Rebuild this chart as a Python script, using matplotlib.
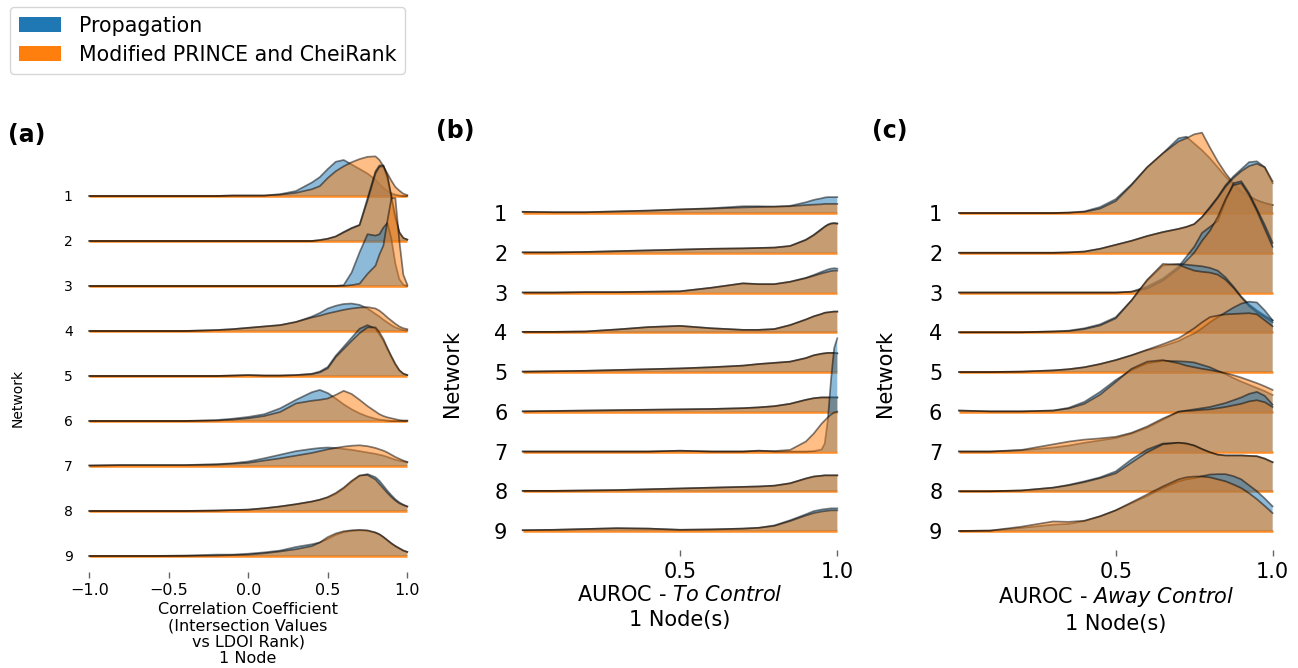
import numpy as np
import matplotlib
matplotlib.use("Agg")
import matplotlib.pyplot as plt
from matplotlib.patches import Patch

# methods
METHODS = ["Propagation", "Modified PRINCE and CheiRank"]
NETWORKS = ["1", "2", "3", "4", "5", "6", "7", "8", "9"]

# (a) correlation coefficient, density heights (in row spacings) on a shared x grid
XA = [-1.0, -0.8, -0.6, -0.4, -0.2, -0.1, 0.0, 0.1, 0.2, 0.3, 0.4, 0.45, 0.5, 0.55,
      0.6, 0.65, 0.7, 0.75, 0.8, 0.825, 0.85, 0.875, 0.9, 0.925, 0.95, 0.975, 1.0]
A_PROP = [
    [0, 0, 0, 0, 0, .01, .01, .01, .04, .11, .3, .42, .6, .76, .8, .7, .6, .5, .36, .26, .18, .11, .06, .03, .01, 0, 0],
    [0, 0, 0, 0, 0, 0, 0, 0, 0, 0, 0, .02, .05, .1, .2, .29, .36, .95, 1.55, 1.68, 1.68, 1.4, .95, .5, .18, .06, .03],
    [0, 0, 0, 0, 0, 0, 0, 0, 0, 0, 0, 0, 0, 0, .02, .3, .75, 1.15, 1.12, 1.15, 1.3, 1.4, 1.05, .5, .15, .03, 0],
    [0, 0, 0, 0, .02, .04, .07, .1, .13, .2, .32, .4, .5, .56, .6, .61, .58, .5, .38, .32, .25, .19, .13, .08, .05, .02, .01],
    [0, 0, 0, 0, 0, .01, .02, .01, .01, .02, .05, .1, .2, .45, .65, .85, 1.05, 1.13, 1.05, .92, .78, .6, .42, .25, .12, .05, .02],
    [0, 0, 0, 0, .02, .05, .09, .15, .28, .47, .64, .69, .62, .5, .37, .26, .17, .1, .05, .03, .02, .01, 0, 0, 0, 0, 0],
    [.01, .02, .02, .02, .04, .06, .1, .17, .25, .33, .38, .4, .41, .4, .38, .36, .33, .3, .27, .25, .23, .2, .17, .14, .12, .1, .08],
    [0, 0, 0, 0, .01, .02, .03, .06, .1, .15, .21, .25, .3, .38, .5, .65, .78, .82, .75, .67, .56, .45, .35, .26, .19, .14, .1],
    [0, 0, 0, .01, .03, .03, .05, .08, .12, .2, .26, .3, .38, .47, .53, .56, .57, .56, .52, .48, .42, .35, .28, .22, .17, .12, .09],
]
A_MOD = [
    [0, 0, 0, 0, 0, .01, .01, .01, .03, .07, .15, .22, .4, .55, .66, .75, .82, .87, .88, .8, .66, .5, .34, .2, .12, .05, .02],
    [0, 0, 0, 0, 0, 0, 0, 0, 0, 0, 0, .02, .05, .1, .19, .28, .35, .9, 1.5, 1.65, 1.66, 1.45, 1.0, .55, .2, .07, .03],
    [0, 0, 0, 0, 0, 0, 0, 0, 0, 0, 0, 0, 0, 0, 0, .02, .05, .27, .45, .7, .9, 1.45, 1.95, 1.95, 1.0, .25, .03],
    [0, 0, 0, 0, .02, .04, .07, .1, .13, .2, .3, .34, .39, .43, .47, .5, .52, .53, .5, .45, .38, .3, .23, .16, .1, .06, .04],
    [0, 0, 0, 0, 0, .01, .02, .01, .01, .02, .04, .08, .17, .42, .6, .78, .95, 1.08, 1.08, .97, .82, .62, .44, .27, .13, .05, .02],
    [0, 0, 0, 0, .01, .03, .06, .11, .2, .39, .45, .47, .5, .58, .67, .6, .47, .33, .21, .15, .11, .08, .06, .04, .02, .01, .01],
    [.01, .02, .02, .02, .03, .05, .07, .12, .17, .23, .29, .33, .37, .4, .43, .45, .46, .44, .4, .37, .34, .3, .25, .2, .16, .12, .09],
    [0, 0, 0, 0, .01, .02, .03, .06, .1, .15, .21, .25, .31, .4, .52, .67, .79, .8, .7, .6, .5, .4, .31, .23, .17, .13, .1],
    [0, 0, 0, 0, .01, .02, .03, .06, .1, .15, .22, .3, .42, .5, .55, .57, .58, .57, .52, .48, .42, .35, .28, .22, .17, .12, .09],
]

# (b) AUROC - To Control
XB = [0, .1, .2, .3, .4, .5, .6, .7, .75, .8, .85, .9, .925, .95, .96, .97, .98, .99, 1.0]
B_PROP = [
    [.03, .02, .02, .04, .06, .09, .12, .17, .17, .16, .18, .27, .33, .37, .39, .4, .4, .4, .4],
    [.01, .01, .02, .04, .06, .08, .1, .11, .12, .13, .17, .33, .45, .6, .66, .71, .74, .75, .74],
    [0, 0, .01, .01, .02, .03, .12, .23, .21, .21, .27, .37, .44, .52, .55, .58, .6, .61, .6],
    [.01, .01, .02, .07, .13, .16, .1, .06, .06, .08, .18, .32, .4, .46, .49, .5, .51, .52, .52],
    [.01, .02, .03, .05, .07, .09, .12, .16, .2, .23, .26, .35, .42, .46, .47, .48, .48, .48, .47],
    [.01, .02, .03, .04, .05, .06, .07, .09, .11, .14, .2, .3, .34, .36, .36, .36, .36, .36, .36],
    [0, 0, 0, 0, 0, .02, 0, 0, .02, 0, 0, 0, .01, .05, .2, .8, 1.8, 2.6, 2.85],
    [.01, .01, .02, .03, .05, .07, .09, .11, .12, .14, .2, .32, .37, .39, .4, .4, .4, .4, .4],
    [.02, .03, .05, .07, .06, .03, .04, .06, .08, .14, .27, .42, .5, .54, .55, .56, .57, .57, .57],
]
B_MOD = [
    [.03, .02, .02, .04, .06, .09, .11, .14, .15, .16, .17, .2, .21, .22, .23, .23, .23, .23, .23],
    [.01, .01, .02, .04, .06, .08, .1, .11, .12, .13, .17, .32, .44, .59, .65, .7, .73, .74, .73],
    [0, 0, .01, .01, .02, .03, .12, .23, .21, .21, .27, .36, .42, .48, .5, .52, .54, .55, .55],
    [.01, .01, .02, .07, .13, .16, .1, .06, .06, .08, .18, .32, .4, .46, .49, .5, .51, .52, .52],
    [.01, .02, .03, .05, .07, .09, .12, .16, .2, .23, .26, .35, .42, .46, .47, .48, .48, .48, .47],
    [.01, .02, .03, .04, .05, .06, .07, .09, .11, .14, .2, .3, .34, .36, .36, .36, .36, .36, .36],
    [0, 0, 0, 0, 0, .02, 0, 0, .02, .01, .04, .25, .45, .7, .78, .86, .93, .98, 1.0],
    [.01, .01, .02, .03, .05, .07, .09, .11, .12, .14, .2, .32, .37, .39, .4, .4, .4, .4, .4],
    [.02, .03, .05, .07, .06, .03, .04, .06, .08, .13, .25, .39, .45, .49, .5, .51, .52, .52, .52],
]

# (c) AUROC - Away Control
XC = [0, .1, .2, .3, .35, .4, .45, .5, .55, .6, .65, .7, .725, .75, .775, .8, .825, .85,
      .875, .9, .925, .95, .975, 1.0]
C_PROP = [
    [0, 0, 0, 0, .01, .04, .15, .35, .72, 1.15, 1.5, 1.88, 1.92, 1.75, 1.58, 1.38, 1.15, .92, .72, .52, .42, .32, .25, .2],
    [0, 0, 0, 0, .01, .03, .1, .2, .3, .42, .52, .6, .65, .72, .9, 1.15, 1.4, 1.7, 1.92, 2.1, 2.28, 2.3, 2.15, 1.75],
    [0, 0, 0, 0, 0, 0, 0, 0, .02, .15, .35, .65, .9, 1.15, 1.5, 1.65, 1.8, 2.3, 2.75, 2.8, 2.5, 2.1, 1.7, 1.25],
    [0, 0, 0, .02, .04, .1, .2, .38, .8, 1.3, 1.68, 1.72, 1.7, 1.68, 1.66, 1.62, 1.55, 1.38, 1.15, .9, .7, .55, .42, .3],
    [0, 0, .01, .04, .07, .12, .2, .3, .42, .55, .65, .78, .88, .97, 1.1, 1.25, 1.38, 1.5, 1.62, 1.72, 1.77, 1.75, 1.55, 1.3],
    [.03, .01, .01, .03, .1, .25, .5, .8, 1.05, 1.22, 1.28, 1.27, 1.26, 1.24, 1.18, 1.12, 1.03, .95, .85, .76, .68, .6, .52, .42],
    [0, 0, .03, .1, .15, .22, .28, .34, .45, .6, .8, 1.0, 1.03, 1.06, 1.09, 1.12, 1.17, 1.22, 1.29, 1.36, 1.45, 1.5, 1.4, 1.18],
    [0, 0, .02, .09, .16, .25, .35, .5, .8, 1.05, 1.2, 1.22, 1.2, 1.15, 1.06, .98, .92, .9, .9, .9, .89, .88, .82, .73],
    [0, .01, .08, .16, .18, .25, .37, .52, .7, .88, 1.08, 1.25, 1.3, 1.33, 1.38, 1.42, 1.43, 1.43, 1.38, 1.3, 1.15, 1.0, .82, .62],
]
C_MOD = [
    [0, 0, 0, 0, .01, .03, .11, .3, .7, 1.15, 1.5, 1.8, 1.88, 1.98, 2.02, 1.65, 1.3, 1.0, .75, .55, .42, .32, .25, .2],
    [0, 0, 0, 0, .01, .03, .1, .2, .3, .42, .52, .6, .65, .72, .9, 1.12, 1.38, 1.66, 1.88, 2.05, 2.18, 2.24, 2.15, 1.8],
    [0, 0, 0, 0, 0, 0, 0, 0, .02, .1, .3, .6, .8, 1.0, 1.3, 1.55, 1.9, 2.35, 2.7, 2.75, 2.45, 2.05, 1.6, 1.15],
    [0, 0, 0, .02, .03, .08, .17, .35, .8, 1.32, 1.72, 1.7, 1.62, 1.55, 1.52, 1.5, 1.45, 1.32, 1.12, .88, .66, .5, .38, .25],
    [0, 0, .01, .04, .07, .12, .2, .3, .42, .56, .7, .85, .97, 1.1, 1.25, 1.38, 1.42, 1.45, 1.46, 1.47, 1.48, 1.45, 1.3, 1.15],
    [.03, .01, .01, .03, .08, .2, .43, .75, 1.08, 1.26, 1.3, 1.22, 1.16, 1.12, 1.08, 1.05, 1.01, .97, .92, .86, .79, .72, .64, .55],
    [0, 0, .04, .18, .25, .3, .33, .37, .47, .63, .83, 1.0, 1.02, 1.03, 1.05, 1.06, 1.09, 1.12, 1.16, 1.2, 1.26, 1.29, 1.24, 1.12],
    [0, 0, .02, .09, .15, .23, .33, .45, .72, .98, 1.18, 1.22, 1.2, 1.15, 1.06, .98, .92, .9, .9, .9, .89, .88, .82, .73],
    [0, .01, .11, .24, .23, .26, .37, .52, .72, .92, 1.12, 1.3, 1.35, 1.37, 1.37, 1.35, 1.3, 1.25, 1.17, 1.08, .95, .8, .63, .45],
]

BLUE = "#1f77b4"
ORANGE = "#ff7f0e"
W, H = 1298, 668

fig = plt.figure(figsize=(W / 100, H / 100), dpi=100)


def px_axes(left, right, top, bottom):
    return fig.add_axes([left / W, 1 - bottom / H, (right - left) / W, (bottom - top) / H])


def ridge(ax, xs, prop, mod, xlim, ylim):
    for k in range(9):
        base = 8 - k
        z = 2 + k * 5
        ax.plot(xlim, [base, base], color=ORANGE, lw=1.8, alpha=0.9, zorder=z,
                solid_capstyle="butt", clip_on=False)
        for vals, col, dz in [(prop[k], BLUE, 1), (mod[k], ORANGE, 3)]:
            top = base + np.array(vals)
            ax.fill_between(xs, base, top, facecolor=col, alpha=0.5, lw=0,
                            zorder=z + dz, clip_on=False)
            ax.plot(xs, top, color="black", alpha=0.5, lw=1.25, zorder=z + dz + 1,
                    clip_on=False)
    ax.set_xlim(xlim)
    ax.set_ylim(ylim)
    ax.set_yticks(range(8, -1, -1))
    ax.set_yticklabels(NETWORKS)
    for s in ax.spines.values():
        s.set_visible(False)
    ax.patch.set_alpha(0)


# panel a
ax_a = px_axes(89.3, 407.3, 100, 572)
ridge(ax_a, XA, A_PROP, A_MOD, (-1.0, 1.0), (-0.356, 10.133))
ax_a.set_xticks([-1.0, -0.5, 0.0, 0.5, 1.0])
ax_a.tick_params(axis="x", length=4, width=1, color="#666666", labelsize=11.5, pad=4)
ax_a.tick_params(axis="y", length=0, labelsize=10, pad=12)

# panel b
ax_b = px_axes(522.7, 837.3, 100, 550)
ridge(ax_b, XB, B_PROP, B_MOD, (0.0, 1.0), (-0.478, 10.843))
ax_b.set_xticks([0.5, 1.0])
ax_b.tick_params(axis="x", length=4, width=1, color="#666666", labelsize=15, pad=5)
ax_b.tick_params(axis="y", length=0, labelsize=15, pad=11)

# panel c
ax_c = px_axes(959.0, 1272.6, 100, 550)
ridge(ax_c, XC, C_PROP, C_MOD, (0.0, 1.0), (-0.478, 10.843))
ax_c.set_xticks([0.5, 1.0])
ax_c.tick_params(axis="x", length=4, width=1, color="#666666", labelsize=15, pad=5)
ax_c.tick_params(axis="y", length=0, labelsize=15, pad=12)

# labels
fig.text(8 / W, 1 - 135 / H, "(a)", fontsize=17, fontweight="bold", va="center")
fig.text(436 / W, 1 - 131 / H, "(b)", fontsize=17, fontweight="bold", va="center")
fig.text(872 / W, 1 - 131 / H, "(c)", fontsize=17, fontweight="bold", va="center")

fig.text(18 / W, 1 - 398 / H, "Network", rotation=90, fontsize=10, ha="center", va="center")
fig.text(452 / W, 1 - 373 / H, "Network", rotation=90, fontsize=15, ha="center", va="center")
fig.text(885 / W, 1 - 373 / H, "Network", rotation=90, fontsize=15, ha="center", va="center")

fig.text(248 / W, 1 - 602 / H,
         "Correlation Coefficient\n(Intersection Values\nvs LDOI Rank)\n1 Node",
         fontsize=11.5, ha="center", va="top", linespacing=1.12)
fig.text(680 / W, 1 - 585 / H, "AUROC - $\\it{To\\ Control}$\n1 Node(s)",
         fontsize=15, ha="center", va="top", linespacing=1.3)
fig.text(1116 / W, 1 - 585 / H, "AUROC - $\\it{Away\\ Control}$\n1 Node(s)",
         fontsize=15, ha="center", va="top", linespacing=1.3)

handles = [Patch(facecolor=BLUE), Patch(facecolor=ORANGE)]
fig.legend(handles, METHODS, loc="upper left", bbox_to_anchor=(10 / W, 1 - 7 / H),
           fontsize=14.8, frameon=True, handlelength=2.05, handleheight=0.7,
           handletextpad=0.9, labelspacing=0.45, borderpad=0.42, borderaxespad=0)

fig.savefig("out.png", dpi=100)
